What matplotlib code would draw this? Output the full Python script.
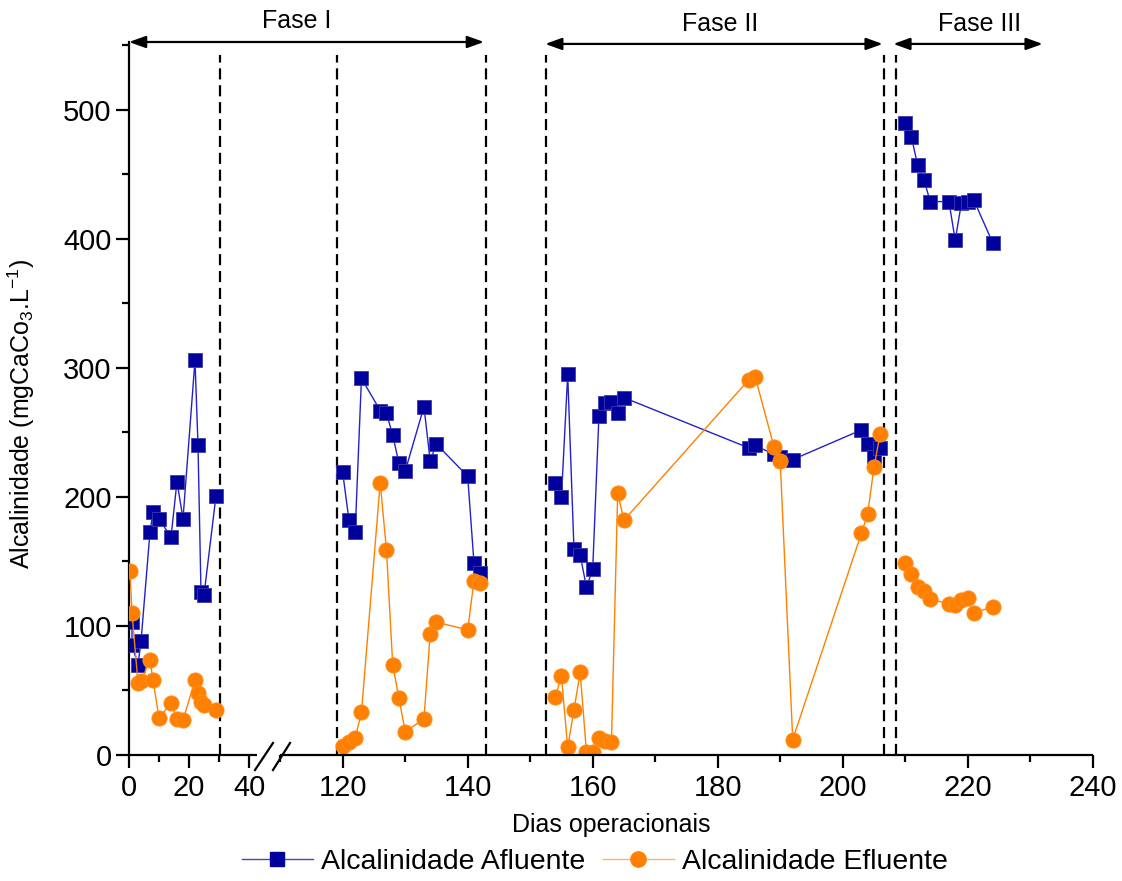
import numpy as np
import matplotlib
matplotlib.use("Agg")
import matplotlib.pyplot as plt
from matplotlib.lines import Line2D

plt.rcParams['font.family'] = ['Liberation Sans', 'DejaVu Sans']
plt.rcParams['mathtext.fontset'] = 'custom'
plt.rcParams['mathtext.rm'] = 'Liberation Sans'
plt.rcParams['mathtext.it'] = 'Liberation Sans'
plt.rcParams['mathtext.default'] = 'regular'

# ---------------- data ----------------
afl_days = [
    [1, 1, 3, 4, 7, 8, 10, 14, 16, 18, 22, 23, 24, 25, 29],
    [120, 121, 122, 123, 126, 127, 128, 129, 130, 133, 134, 135, 140, 141, 142],
    [154, 155, 156, 157, 158, 159, 160, 161, 162, 163, 164, 165, 185, 186, 189, 190, 192, 203, 204, 205, 206],
    [210, 211, 212, 213, 214, 217, 218, 219, 220, 221, 224],
]
afl_vals = [
    [103, 85, 70, 88, 173, 188, 183, 169, 212, 183, 306, 240, 126, 124, 201],
    [219, 182, 173, 292, 267, 265, 248, 226, 220, 270, 228, 241, 216, 149, 141],
    [211, 200, 295, 160, 155, 130, 144, 263, 273, 274, 265, 277, 238, 240, 233, 231, 229, 252, 241, 231, 238],
    [490, 479, 457, 446, 429, 429, 399, 428, 429, 430, 397],
]
efl_days = [
    [0.3, 1, 3, 4, 7, 8, 10, 14, 16, 18, 22, 23, 24, 25, 29],
    [120, 121, 122, 123, 126, 127, 128, 129, 130, 133, 134, 135, 140, 141, 142],
    [154, 155, 156, 157, 158, 159, 160, 161, 162, 163, 164, 165, 185, 186, 189, 190, 192, 203, 204, 205, 206],
    [210, 211, 212, 213, 214, 217, 218, 219, 220, 221, 224],
]
efl_vals = [
    [143, 110, 56, 57, 74, 58, 29, 40, 28, 27, 58, 48, 41, 39, 35],
    [7, 10, 13, 33, 211, 159, 70, 44, 18, 28, 94, 103, 97, 135, 133],
    [45, 61, 6, 35, 64, 2, 2, 13, 11, 10, 203, 182, 291, 293, 239, 228, 12, 172, 187, 223, 249],
    [149, 140, 130, 127, 121, 117, 116, 120, 122, 110, 115],
]
phase_lines = [30.3, 119.1, 142.9, 152.6, 206.6, 208.5]
phase_labels = ["Fase I", "Fase II", "Fase III"]
phase_spans = [(0, 142.6), (152.4, 206.4), (208.1, 232.0)]
x_major = [0, 20, 40, 120, 140, 160, 180, 200, 220, 240]
x_minor = [10, 30, 110, 130, 150, 170, 190, 210, 230]
y_major = [0, 100, 200, 300, 400, 500]
y_minor = [50, 150, 250, 350, 450, 550]

# ---------------- broken x scale ----------------
XA, XB = 44.0, 110.0
UA = 3.0 * XA
UB = 213.7 + 6.25 * (XB - 120)


def fwd(x):
    x = np.asarray(x, dtype=float)
    mid = UA + (x - XA) * (UB - UA) / (XB - XA)
    return np.where(x <= XA, 3.0 * x, np.where(x >= XB, 213.7 + 6.25 * (x - 120), mid))


def inv(u):
    u = np.asarray(u, dtype=float)
    mid = XA + (u - UA) * (XB - XA) / (UB - UA)
    return np.where(u <= UA, u / 3.0, np.where(u >= UB, 120 + (u - 213.7) / 6.25, mid))


W, H = 1122, 881
fig = plt.figure(figsize=(W / 100, H / 100), dpi=100)
ax = fig.add_axes([129 / W, 1 - 755 / H, (1092.7 - 129) / W, 713 / H])
ax.set_xscale('function', functions=(fwd, inv))
ax.set_xlim(0, 240)
ax.set_ylim(0, 552.7)

blue_m = '#00009C'
blue_l = '#2222C8'
orange = '#FF8000'

for d, v in zip(afl_days, afl_vals):
    ax.plot(d, v, '-', color=blue_l, lw=1.0, marker='s', ms=9.8,
            mfc=blue_m, mec='#3a3ab0', mew=0.6, zorder=3)
for d, v in zip(efl_days, efl_vals):
    ax.plot(d, v, '-', color=orange, lw=1.0, marker='o', ms=11,
            mfc=orange, mec='#FF9020', mew=0.6, zorder=4)

# vertical dashed lines
for xv in phase_lines:
    ax.plot([xv, xv], [0, 542.6], color='black', lw=1.6,
            ls=(0, (5, 2.6)), zorder=2, clip_on=False)

# spines
for s in ['top', 'right', 'bottom']:
    ax.spines[s].set_visible(False)
ax.spines['left'].set_linewidth(1.6)
ax.spines['left'].set_bounds(0, 552.7)

# bottom axis in two pieces + break marks
xl_end = float(inv(257 - 129))
xr_start = float(inv(280 - 129))
ax.plot([0, xl_end], [0, 0], color='black', lw=1.6, clip_on=False, zorder=5,
        solid_capstyle='butt')
ax.plot([xr_start, 240], [0, 0], color='black', lw=1.6, clip_on=False, zorder=5,
        solid_capstyle='butt')
for (pa, pb) in [((255, 770), (273, 743)), ((273, 770), (290, 743))]:
    xa = float(inv(pa[0] - 129)); xb = float(inv(pb[0] - 129))
    ya = (755 - pa[1]) / 1.29; yb = (755 - pb[1]) / 1.29
    ax.plot([xa, xb], [ya, yb], color='black', lw=1.6, clip_on=False, zorder=5)

ax.set_xticks(x_major)
ax.set_xticklabels([str(t) for t in x_major])
ax.set_xticks(x_minor, minor=True)
ax.set_yticks(y_major)
ax.set_yticks(y_minor, minor=True)
ax.tick_params(axis='both', which='major', direction='out', length=9.5, width=1.6,
               labelsize=21, pad=4)
ax.tick_params(axis='both', which='minor', direction='out', length=5, width=1.6)
ax.tick_params(axis='x', which='both', top=False)
ax.tick_params(axis='y', which='both', right=False)
ax.tick_params(axis='y', which='major', pad=3)

ax.set_xlabel('Dias operacionais', fontsize=18, labelpad=8)
ax.set_ylabel(r'Alcalinidade (mgCaCo$_3$.L$^{-1}$)', fontsize=18)
ax.yaxis.set_label_coords((37 - 129) / 963.7, (755 - 414) / 713)

# phase arrows and labels
ys_arrow = [552.7, 551.2, 551.2]
for (x0, x1), ya, lab in zip(phase_spans, ys_arrow, phase_labels):
    ax.annotate('', xy=(x0, ya), xytext=(x1, ya), xycoords='data',
                arrowprops=dict(arrowstyle='<|-|>,head_length=0.5,head_width=0.18',
                                color='black', lw=1.6, shrinkA=0, shrinkB=0,
                                mutation_scale=20), annotation_clip=False)
for xp, yp, lab in [(297, 21, phase_labels[0]), (720, 24, phase_labels[1]),
                    (980, 24, phase_labels[2])]:
    fig.text(xp / W, 1 - yp / H, lab, fontsize=18, ha='center', va='center')

handles = [
    Line2D([], [], color='#4444CC', lw=1.0, marker='s', ms=9.8, mfc=blue_m, mec=blue_m),
    Line2D([], [], color='#FFB060', lw=1.0, marker='o', ms=11, mfc=orange, mec=orange),
]
fig.legend(handles, ['Alcalinidade Afluente', 'Alcalinidade Efluente'],
           loc='center', bbox_to_anchor=(595 / W, 1 - 862 / H), ncol=2,
           frameon=False, fontsize=20.5, handlelength=2.5, columnspacing=0.6,
           handletextpad=0.3)

fig.savefig('out.png', dpi=100)
